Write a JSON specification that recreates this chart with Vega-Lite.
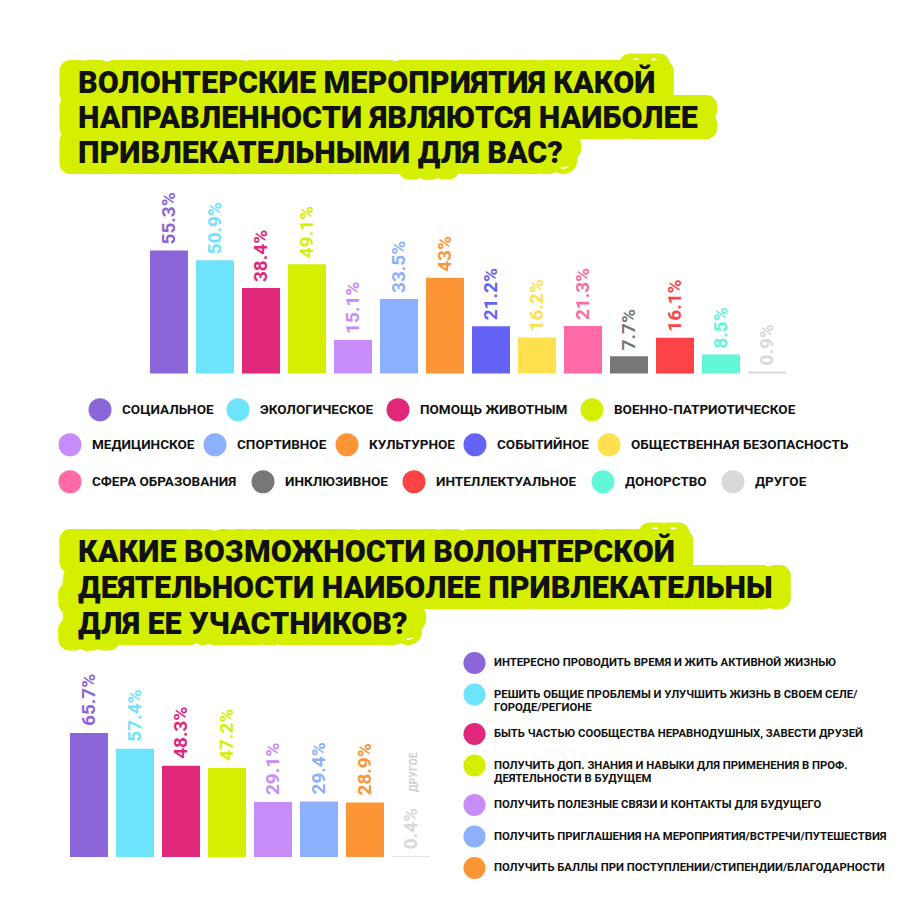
{
  "$schema": "https://vega.github.io/schema/vega-lite/v6.json",
  "background": "white",
  "padding": {"left": 58, "top": 66, "right": 20, "bottom": 20},
  "bounds": "flush",
  "spacing": 18.5,
  "config": {
    "view": {"stroke": null},
    "font": "Roboto",
    "legend": {
      "orient": "none",
      "title": null,
      "padding": 0,
      "symbolType": "circle",
      "symbolSize": 530,
      "symbolStrokeWidth": 0,
      "symbolOpacity": 1,
      "labelFont": "Roboto",
      "labelFontWeight": "bold",
      "labelColor": "#111111",
      "labelLimit": 0
    }
  },
  "vconcat": [
    {
      "width": 780,
      "height": 105,
      "data": {"values": [
        {"line": 1, "text": "ВОЛОНТЕРСКИЕ МЕРОПРИЯТИЯ КАКОЙ"},
        {"line": 2, "text": "НАПРАВЛЕННОСТИ ЯВЛЯЮТСЯ НАИБОЛЕЕ"},
        {"line": 3, "text": "ПРИВЛЕКАТЕЛЬНЫМИ ДЛЯ ВАС?"}
      ]},
      "encoding": {
        "x": {"datum": 0, "type": "quantitative", "scale": {"domain": [0, 1]}, "axis": null},
        "y": {"field": "line", "type": "ordinal", "axis": null},
        "text": {"field": "text"}
      },
      "layer": [
        {"mark": {"type": "text", "align": "left", "baseline": "middle", "font": "Roboto", "fontWeight": 900, "fontSize": 30.5, "fill": "#d4ef00", "stroke": "#d4ef00", "strokeWidth": 22, "strokeJoin": "round", "dx": 3}},
        {"mark": {"type": "text", "align": "left", "baseline": "middle", "font": "Roboto", "fontWeight": 900, "fontSize": 30.5, "fill": "#d4ef00", "stroke": "#d4ef00", "strokeWidth": 22, "strokeJoin": "round", "dx": 21}},
        {"mark": {"type": "text", "align": "left", "baseline": "middle", "font": "Roboto", "fontWeight": 900, "fontSize": 30.5, "fill": "#111111", "dx": 12}}
      ]
    },
    {
      "width": 728,
      "height": 326.5,
      "data": {"values": [
        {"cat": "СОЦИАЛЬНОЕ", "v": 55.3},
        {"cat": "ЭКОЛОГИЧЕСКОЕ", "v": 50.9},
        {"cat": "ПОМОЩЬ ЖИВОТНЫМ", "v": 38.4},
        {"cat": "ВОЕННО-ПАТРИОТИЧЕСКОЕ", "v": 49.1},
        {"cat": "МЕДИЦИНСКОЕ", "v": 15.1},
        {"cat": "СПОРТИВНОЕ", "v": 33.5},
        {"cat": "КУЛЬТУРНОЕ", "v": 43},
        {"cat": "СОБЫТИЙНОЕ", "v": 21.2},
        {"cat": "ОБЩЕСТВЕННАЯ БЕЗОПАСНОСТЬ", "v": 16.2},
        {"cat": "СФЕРА ОБРАЗОВАНИЯ", "v": 21.3},
        {"cat": "ИНКЛЮЗИВНОЕ", "v": 7.7},
        {"cat": "ИНТЕЛЛЕКТУАЛЬНОЕ", "v": 16.1},
        {"cat": "ДОНОРСТВО", "v": 8.5},
        {"cat": "ДРУГОЕ", "v": 0.9}
      ]},
      "transform": [{"calculate": "datum.v + '%'", "as": "label"}],
      "encoding": {
        "x": {"field": "cat", "type": "nominal", "sort": null, "axis": null, "scale": {"paddingInner": 0.1739, "paddingOuter": 1, "align": 0.913}},
        "y": {"field": "v", "type": "quantitative", "axis": null, "scale": {"domain": [-64.05, 82.7], "nice": false, "zero": false}}
      },
      "layer": [
        {
          "mark": {"type": "bar"},
          "encoding": {
            "y2": {"datum": 0},
            "color": {"field": "cat", "type": "nominal", "sort": null,
              "scale": {"range": ["#8a66d8", "#6ee3fc", "#e0287a", "#d4ef00", "#c88cf8", "#8cb0fb", "#fb9535", "#6363f6", "#ffe04f", "#fd6aa6", "#777777", "#fc4447", "#62f7d8", "#d9d9d9"]},
              "legend": {"values": ["СОЦИАЛЬНОЕ", "ЭКОЛОГИЧЕСКОЕ", "ПОМОЩЬ ЖИВОТНЫМ", "ВОЕННО-ПАТРИОТИЧЕСКОЕ"], "direction": "horizontal", "legendX": 22, "legendY": 208, "columnPadding": 12, "labelOffset": 10, "labelFontSize": 13.5, "symbolType": "circle", "symbolOpacity": 1}}
          }
        },
        {
          "mark": {"type": "text", "angle": 270, "align": "left", "baseline": "middle", "dx": 6, "font": "Roboto", "fontSize": 19, "fontWeight": "bold"},
          "encoding": {
            "text": {"field": "label"},
            "color": {"field": "cat", "type": "nominal", "sort": null,
              "scale": {"range": ["#8a66d8", "#6ee3fc", "#e0287a", "#d4ef00", "#c88cf8", "#8cb0fb", "#fb9535", "#6363f6", "#ffe04f", "#fd6aa6", "#777777", "#fc4447", "#62f7d8", "#d9d9d9"]},
              "legend": {"values": ["МЕДИЦИНСКОЕ", "СПОРТИВНОЕ", "КУЛЬТУРНОЕ", "СОБЫТИЙНОЕ", "ОБЩЕСТВЕННАЯ БЕЗОПАСНОСТЬ"], "direction": "horizontal", "legendX": -8, "legendY": 243, "columnPadding": 8, "labelOffset": 10, "labelFontSize": 13.5, "symbolType": "circle", "symbolOpacity": 1}}
          }
        },
        {
          "mark": {"type": "point", "size": 0, "filled": true},
          "encoding": {
            "color": {"field": "cat", "type": "nominal", "sort": null,
              "scale": {"range": ["#8a66d8", "#6ee3fc", "#e0287a", "#d4ef00", "#c88cf8", "#8cb0fb", "#fb9535", "#6363f6", "#ffe04f", "#fd6aa6", "#777777", "#fc4447", "#62f7d8", "#d9d9d9"]},
              "legend": {"values": ["СФЕРА ОБРАЗОВАНИЯ", "ИНКЛЮЗИВНОЕ", "ИНТЕЛЛЕКТУАЛЬНОЕ", "ДОНОРСТВО", "ДРУГОЕ"], "direction": "horizontal", "legendX": -8, "legendY": 280, "columnPadding": 14, "labelOffset": 10, "labelFontSize": 13.5, "symbolType": "circle", "symbolOpacity": 1, "symbolSize": 530}}
          }
        }
      ],
      "resolve": {"scale": {"color": "independent"}}
    },
    {
      "width": 780,
      "height": 108,
      "data": {"values": [
        {"line": 1, "text": "КАКИЕ ВОЗМОЖНОСТИ ВОЛОНТЕРСКОЙ"},
        {"line": 2, "text": "ДЕЯТЕЛЬНОСТИ НАИБОЛЕЕ ПРИВЛЕКАТЕЛЬНЫ"},
        {"line": 3, "text": "ДЛЯ ЕЕ УЧАСТНИКОВ?"}
      ]},
      "encoding": {
        "x": {"datum": 0, "type": "quantitative", "scale": {"domain": [0, 1]}, "axis": null},
        "y": {"field": "line", "type": "ordinal", "axis": null},
        "text": {"field": "text"}
      },
      "layer": [
        {"mark": {"type": "text", "align": "left", "baseline": "middle", "font": "Roboto", "fontWeight": 900, "fontSize": 30.5, "fill": "#d4ef00", "stroke": "#d4ef00", "strokeWidth": 22, "strokeJoin": "round", "dx": 3}},
        {"mark": {"type": "text", "align": "left", "baseline": "middle", "font": "Roboto", "fontWeight": 900, "fontSize": 30.5, "fill": "#d4ef00", "stroke": "#d4ef00", "strokeWidth": 22, "strokeJoin": "round", "dx": 21}},
        {"mark": {"type": "text", "align": "left", "baseline": "middle", "font": "Roboto", "fontWeight": 900, "fontSize": 30.5, "fill": "#111111", "dx": 12}}
      ]
    },
    {
      "width": 368,
      "height": 195.5,
      "data": {"values": [
        {"cat": "ИНТЕРЕСНО ПРОВОДИТЬ ВРЕМЯ И ЖИТЬ АКТИВНОЙ ЖИЗНЬЮ", "v": 65.7},
        {"cat": "РЕШИТЬ ОБЩИЕ ПРОБЛЕМЫ И УЛУЧШИТЬ ЖИЗНЬ В СВОЕМ СЕЛЕ/ГОРОДЕ/РЕГИОНЕ", "v": 57.4},
        {"cat": "БЫТЬ ЧАСТЬЮ СООБЩЕСТВА НЕРАВНОДУШНЫХ, ЗАВЕСТИ ДРУЗЕЙ", "v": 48.3},
        {"cat": "ПОЛУЧИТЬ ДОП. ЗНАНИЯ И НАВЫКИ ДЛЯ ПРИМЕНЕНИЯ В ПРОФ. ДЕЯТЕЛЬНОСТИ В БУДУЩЕМ", "v": 47.2},
        {"cat": "ПОЛУЧИТЬ ПОЛЕЗНЫЕ СВЯЗИ И КОНТАКТЫ ДЛЯ БУДУЩЕГО", "v": 29.1},
        {"cat": "ПОЛУЧИТЬ ПРИГЛАШЕНИЯ НА МЕРОПРИЯТИЯ/ВСТРЕЧИ/ПУТЕШЕСТВИЯ", "v": 29.4},
        {"cat": "ПОЛУЧИТЬ БАЛЛЫ ПРИ ПОСТУПЛЕНИИ/СТИПЕНДИИ/БЛАГОДАРНОСТИ", "v": 28.9},
        {"cat": "ДРУГОЕ", "v": 0.4}
      ]},
      "transform": [{"calculate": "datum.v + '%'", "as": "label"}],
      "encoding": {
        "x": {"field": "cat", "type": "nominal", "sort": null, "axis": null, "scale": {"paddingInner": 0.1739, "paddingOuter": 0.087}},
        "y": {"field": "v", "type": "quantitative", "axis": null, "scale": {"domain": [0, 103.6], "nice": false}}
      },
      "layer": [
        {
          "mark": {"type": "bar"},
          "encoding": {
            "color": {"field": "cat", "type": "nominal", "sort": null,
              "scale": {"range": ["#8a66d8", "#6ee3fc", "#e0287a", "#d4ef00", "#c88cf8", "#8cb0fb", "#fb9535", "#d9d9d9"]},
              "legend": {
                "values": ["ИНТЕРЕСНО ПРОВОДИТЬ ВРЕМЯ И ЖИТЬ АКТИВНОЙ ЖИЗНЬЮ", "РЕШИТЬ ОБЩИЕ ПРОБЛЕМЫ И УЛУЧШИТЬ ЖИЗНЬ В СВОЕМ СЕЛЕ/ГОРОДЕ/РЕГИОНЕ", "БЫТЬ ЧАСТЬЮ СООБЩЕСТВА НЕРАВНОДУШНЫХ, ЗАВЕСТИ ДРУЗЕЙ", "ПОЛУЧИТЬ ДОП. ЗНАНИЯ И НАВЫКИ ДЛЯ ПРИМЕНЕНИЯ В ПРОФ. ДЕЯТЕЛЬНОСТИ В БУДУЩЕМ", "ПОЛУЧИТЬ ПОЛЕЗНЫЕ СВЯЗИ И КОНТАКТЫ ДЛЯ БУДУЩЕГО", "ПОЛУЧИТЬ ПРИГЛАШЕНИЯ НА МЕРОПРИЯТИЯ/ВСТРЕЧИ/ПУТЕШЕСТВИЯ", "ПОЛУЧИТЬ БАЛЛЫ ПРИ ПОСТУПЛЕНИИ/СТИПЕНДИИ/БЛАГОДАРНОСТИ"],
                "direction": "vertical", "legendX": 397, "legendY": -10, "rowPadding": 8.5, "labelOffset": 8, "labelFontSize": 11.3, "symbolSize": 490,
                "labelExpr": "split(replace(replace(datum.label, 'СЕЛЕ/', 'СЕЛЕ/~'), 'ПРОФ. ', 'ПРОФ.~'), '~')",
                "symbolType": "circle", "symbolOpacity": 1}
            }
          }
        },
        {
          "mark": {"type": "text", "angle": 270, "align": "left", "baseline": "middle", "dx": 7, "font": "Roboto", "fontSize": 19, "fontWeight": "bold"},
          "encoding": {
            "text": {"field": "label"},
            "color": {"field": "cat", "type": "nominal", "sort": null,
              "scale": {"range": ["#8a66d8", "#6ee3fc", "#e0287a", "#d4ef00", "#c88cf8", "#8cb0fb", "#fb9535", "#d9d9d9"]},
              "legend": null}
          }
        },
        {
          "transform": [{"filter": "datum.cat == 'ДРУГОЕ'"}],
          "mark": {"type": "text", "angle": 270, "align": "left", "baseline": "middle", "dx": 64, "dy": 3, "font": "Roboto", "fontSize": 10.5, "fontWeight": "bold", "color": "#cfcfcf"},
          "encoding": {"text": {"field": "cat"}}
        }
      ],
      "resolve": {"scale": {"color": "independent"}}
    }
  ]
}
